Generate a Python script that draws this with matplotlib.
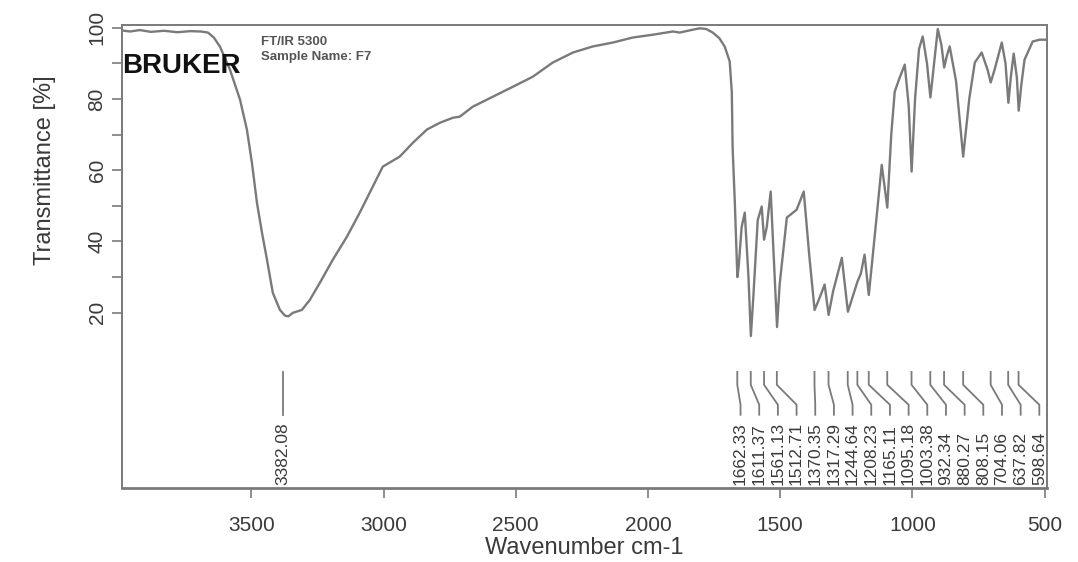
import numpy as np
import matplotlib
matplotlib.use("Agg")
import matplotlib.pyplot as plt

plt.rcParams['font.family'] = ['Liberation Sans', 'DejaVu Sans']

# spectrum (wavenumber cm-1, transmittance %)
wavenumber = [3990, 3959, 3922, 3880, 3830, 3780, 3730, 3690, 3664, 3642, 3619,
              3581, 3543, 3517, 3498, 3479, 3460, 3441, 3419, 3392, 3373, 3360,
              3343, 3309, 3279, 3241, 3192, 3139, 3090, 3003, 2939, 2889, 2836,
              2787, 2738, 2712, 2663, 2587, 2511, 2436, 2360, 2284, 2209, 2133,
              2058, 1982, 1906, 1880, 1831, 1804, 1780, 1755, 1730, 1710, 1691,
              1683, 1680, 1672, 1665, 1662, 1657, 1646, 1634, 1620, 1611, 1602,
              1585, 1570, 1561, 1551, 1536, 1522, 1512, 1502, 1475, 1438, 1411,
              1390, 1370, 1352, 1332, 1317, 1300, 1267, 1244, 1228, 1208, 1195,
              1181, 1165, 1150, 1116, 1095, 1080, 1067, 1048, 1029, 1014, 1003,
              990, 975, 961, 945, 932, 918, 904, 890, 880, 870, 859, 835, 808,
              785, 764, 738, 715, 704, 690, 662, 648, 637, 628, 617, 605, 598,
              588, 576, 545, 519, 492]
transmittance = [99.2, 98.9, 99.3, 98.8, 99.1, 98.7, 99.0, 98.9, 98.6, 97.2, 94.7,
                 88.2, 79.8, 71.4, 62.1, 50.9, 42.5, 34.9, 25.6, 20.8, 19.2, 19.0,
                 20.0, 20.8, 23.6, 28.4, 34.9, 41.3, 48.1, 61.0, 63.8, 67.7, 71.4,
                 73.3, 74.7, 75.0, 77.8, 80.6, 83.4, 86.2, 90.2, 93.0, 94.7, 95.8,
                 97.2, 98.0, 98.9, 98.6, 99.4, 99.8, 99.6, 98.6, 97.0, 94.7, 90.5,
                 81.8, 66.3, 51.7, 36.0, 30.0, 33.0, 44.0, 48.1, 30.0, 13.5, 24.0,
                 46.0, 49.8, 40.5, 44.0, 54.0, 32.0, 16.0, 28.0, 46.7, 48.9, 54.0,
                 36.0, 20.8, 24.0, 27.9, 19.4, 26.0, 35.4, 20.3, 24.0, 28.7, 31.0,
                 36.3, 25.0, 36.0, 61.5, 49.5, 70.0, 82.0, 86.0, 89.6, 78.0, 59.6,
                 80.0, 94.0, 97.5, 90.0, 80.4, 90.0, 99.6, 95.0, 88.8, 92.0, 94.7,
                 85.0, 63.8, 80.0, 90.2, 93.0, 88.0, 84.6, 88.0, 95.8, 90.0, 78.9,
                 86.0, 92.7, 86.0, 76.7, 84.0, 91.0, 96.1, 96.6, 96.6]

peaks = [3382.08, 1662.33, 1611.37, 1561.13, 1512.71, 1370.35, 1317.29,
         1244.64, 1208.23, 1165.11, 1095.18, 1003.38, 932.34, 880.27,
         808.15, 704.06, 637.82, 598.64]

x_ticks = [3500, 3000, 2500, 2000, 1500, 1000, 500]
y_ticks = [20, 40, 60, 80, 100]

line_col = "#7a7a7a"
text_col = "#3a3a3a"

fig = plt.figure(figsize=(10.78, 5.62), dpi=100)
ax = fig.add_axes([0.113, 0.132, 0.858, 0.824])

ax.plot(wavenumber, transmittance, color=line_col, lw=1.7)

# peak markers: first one stands alone, the rest get spread out below the curve
ax.plot([peaks[0], peaks[0]], [3.4, -8.6], color=line_col, lw=1.3)
ax.text(peaks[0], -28.4, f"{peaks[0]:.2f}", rotation=90, ha="center", va="bottom",
        fontsize=12.5, color=text_col)

label_x = np.linspace(1650, 520, len(peaks) - 1)
for p, lx in zip(peaks[1:], label_x):
    ax.plot([p, p, lx, lx], [3.4, -0.2, -5.8, -8.6], color=line_col, lw=1.3)
    ax.text(lx, -28.4, f"{p:.2f}", rotation=90, ha="center", va="bottom",
            fontsize=12.5, color=text_col)

ax.set_xlim(3990, 492)
ax.set_ylim(-29.1, 100.8)
ax.set_xticks(x_ticks)
ax.set_yticks(y_ticks)
ax.set_yticks([30, 50, 70, 90], minor=True)
ax.tick_params(axis="x", direction="out", length=7, width=1.2, color=line_col,
               labelsize=15, pad=13, labelcolor=text_col)
ax.tick_params(axis="y", which="both", direction="out", length=7, width=1.2,
               color=line_col, labelsize=15, labelrotation=90, pad=4,
               labelcolor=text_col)
for lab in ax.get_yticklabels():
    lab.set_va("center")

for s in ax.spines.values():
    s.set_color(line_col)
    s.set_linewidth(1.4)
ax.spines["bottom"].set_linewidth(2)

ax.set_xlabel("Wavenumber cm-1", fontsize=17, color=text_col)
ax.xaxis.set_label_coords(0.5, -0.13)
ax.xaxis.label.set_va("center")
ax.set_ylabel("Transmittance [%]", fontsize=17, color=text_col)
ax.yaxis.set_label_coords(-0.083, 0.685)
ax.yaxis.label.set_va("center")

ax.text(0.0, 0.911, "BRUKER", transform=ax.transAxes, fontsize=20,
        fontweight="bold", color="#111111", va="center", ha="left")
ax.text(0.151, 0.963, "FT/IR 5300", transform=ax.transAxes, fontsize=9.5,
        fontweight="bold", color="#555555", va="center", ha="left")
ax.text(0.151, 0.931, "Sample Name: F7", transform=ax.transAxes, fontsize=9.5,
        fontweight="bold", color="#555555", va="center", ha="left")

fig.savefig("out.png", dpi=100, facecolor="white")
